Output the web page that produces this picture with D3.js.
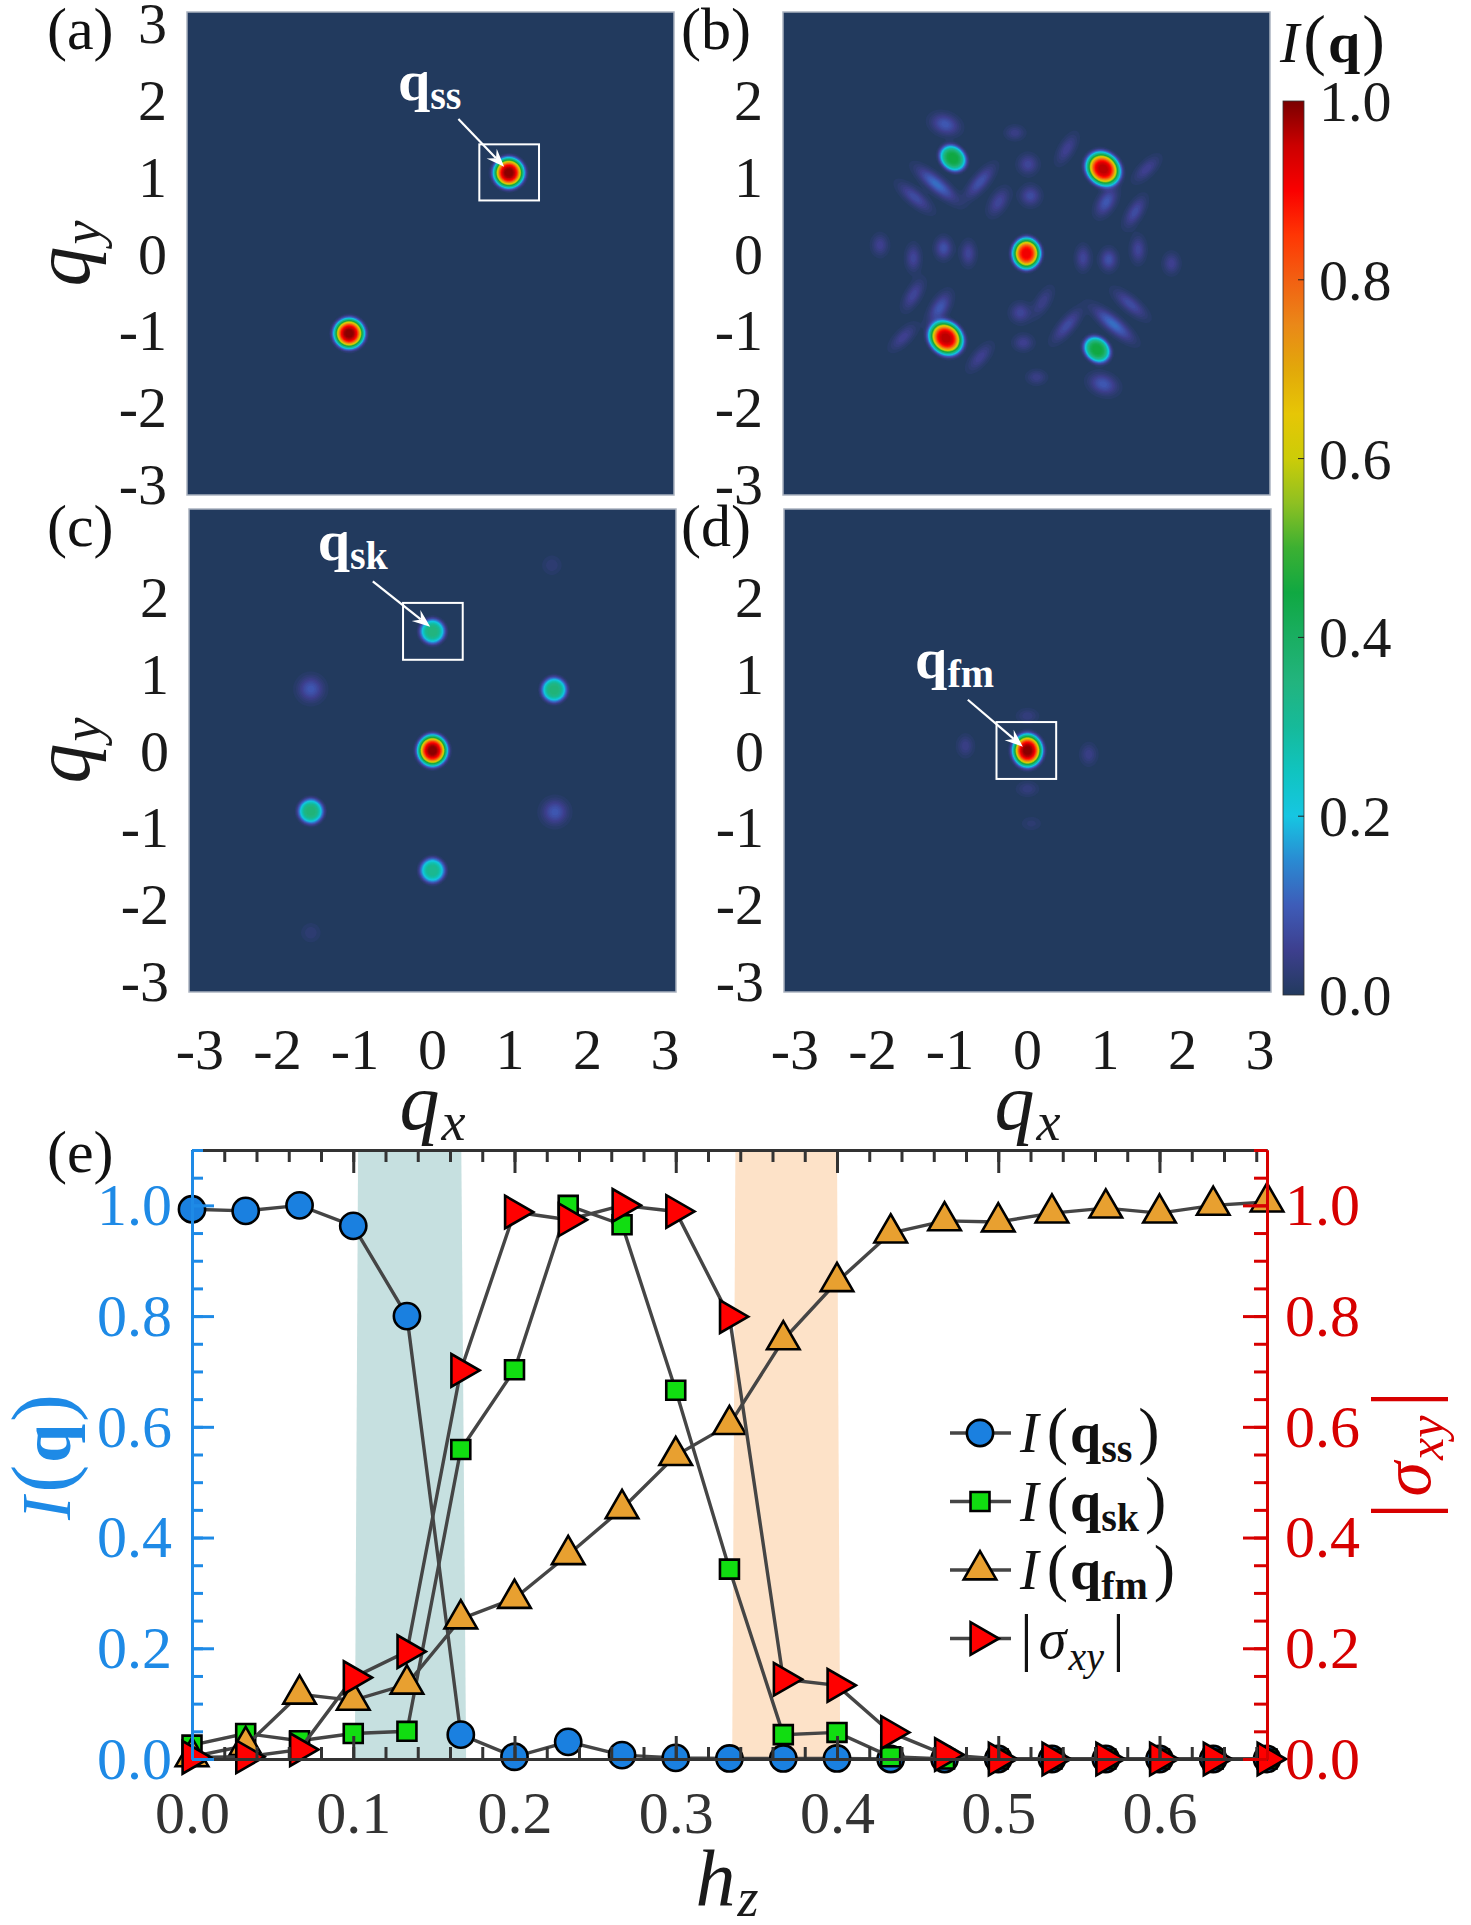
<!DOCTYPE html>
<html>
<head>
<meta charset="utf-8">
<script src="https://cdn.jsdelivr.net/npm/d3@7"></script>
<style>
body{margin:0;background:#fff}
svg text{font-family:"Liberation Serif","Times New Roman",serif}
</style>
</head>
<body>
<div id="fig"></div>
<script>
var width = 1471, height = 1925

// ---------- panel (e): values ----------
var hz    = [0, 0.0333, 0.0667, 0.1, 0.1333, 0.1667, 0.2, 0.2333, 0.2667, 0.3, 0.3333, 0.3667, 0.4, 0.4333, 0.4667, 0.5, 0.5333, 0.5667, 0.6, 0.6333, 0.6667]
var Iss   = [0.993, 0.99, 1.0, 0.963, 0.80, 0.044, 0.004, 0.031, 0.007, 0.002, 0.001, 0.001, 0.001, 0, 0, 0, 0, 0, 0, 0, 0]
var Isk   = [0.025, 0.046, 0.033, 0.046, 0.050, 0.559, 0.703, 1.0, 0.965, 0.666, 0.343, 0.044, 0.048, 0.004, 0, 0, 0, 0, 0, 0, 0]
var Ifm   = [0.004, 0.024, 0.117, 0.106, 0.135, 0.253, 0.29, 0.369, 0.452, 0.548, 0.604, 0.757, 0.862, 0.95, 0.972, 0.97, 0.986, 0.995, 0.986, 1.0, 1.006]
var sigxy = [0.003, 0.004, 0.017, 0.147, 0.194, 0.702, 0.988, 0.974, 1.0, 0.989, 0.799, 0.144, 0.133, 0.048, 0.008, 0, 0, 0, 0, 0, 0]
var hzTicks  = [0, 0.1, 0.2, 0.3, 0.4, 0.5, 0.6]
var valTicks = [0, 0.2, 0.4, 0.6, 0.8, 1.0]
// shaded transition windows: [bottom-left, top-left, top-right, bottom-right] in h_z
var tealBand  = [0.101, 0.103, 0.167, 0.170]
var peachBand = [0.335, 0.337, 0.400, 0.402]

// ---------- heat maps: spots as [qx, qy, peak, width1, width2, angle] ----------
var qTicks = [-3, -2, -1, 0, 1, 2, 3]
var spotsA = [
  [1.01, 1.05, 1.0, 0.175, 0.175, 0],
  [-1.05, -1.04, 1.0, 0.175, 0.175, 0]
]
var spotsB = [
  [0.0, 0.0, 0.92, 0.16, 0.18, 0],
  [0.99, 1.10, 0.97, 0.21, 0.18, -45],
  [-1.04, -1.10, 0.97, 0.21, 0.18, -45],
  [-0.95, 1.24, 0.46, 0.17, 0.14, -45],
  [0.91, -1.25, 0.46, 0.17, 0.14, -45],
  [-1.05, 1.68, 0.10, 0.17, 0.12, -20],
  [-1.16, 0.90, 0.13, 0.28, 0.09, -40],
  [-1.44, 0.73, 0.08, 0.24, 0.09, -40],
  [-0.60, 0.93, 0.09, 0.24, 0.09, 50],
  [-0.36, 0.67, 0.07, 0.18, 0.10, 60],
  [0.02, 1.16, 0.07, 0.12, 0.12, 0],
  [0.05, 0.75, 0.08, 0.12, 0.12, 0],
  [-0.15, 1.57, 0.05, 0.12, 0.09, 0],
  [0.52, 1.36, 0.06, 0.20, 0.09, 60],
  [1.03, 0.67, 0.10, 0.18, 0.10, 60],
  [1.40, 0.54, 0.08, 0.20, 0.09, 60],
  [1.55, 1.10, 0.06, 0.20, 0.09, 45],
  [-1.89, 0.11, 0.06, 0.10, 0.13, 0],
  [-1.46, -0.06, 0.07, 0.09, 0.16, 0],
  [-1.07, 0.07, 0.09, 0.10, 0.13, 0],
  [-0.75, 0.00, 0.07, 0.09, 0.15, 0],
  [0.73, -0.06, 0.07, 0.09, 0.15, 0],
  [1.06, -0.08, 0.09, 0.10, 0.13, 0],
  [1.44, 0.05, 0.07, 0.09, 0.16, 0],
  [1.87, -0.13, 0.06, 0.10, 0.13, 0],
  [-1.46, -0.54, 0.07, 0.20, 0.09, 60],
  [-1.12, -0.71, 0.10, 0.20, 0.10, 60],
  [-0.08, -0.77, 0.07, 0.12, 0.12, 0],
  [-0.04, -1.16, 0.06, 0.12, 0.10, 0],
  [0.52, -0.94, 0.08, 0.24, 0.09, 50],
  [1.12, -0.92, 0.13, 0.28, 0.09, -40],
  [1.34, -0.66, 0.08, 0.24, 0.09, -40],
  [-1.59, -1.09, 0.06, 0.20, 0.09, 45],
  [-0.60, -1.35, 0.06, 0.20, 0.09, 50],
  [0.99, -1.70, 0.10, 0.17, 0.12, -20],
  [0.13, -1.61, 0.05, 0.12, 0.09, 0],
  [0.21, -0.63, 0.05, 0.20, 0.09, 60]
]
var spotsC = [
  [0.0, 0.0, 1.0, 0.17, 0.18, 0],
  [0.0, 1.55, 0.36, 0.15, 0.15, 0],
  [1.57, 0.79, 0.37, 0.15, 0.15, 0],
  [-1.57, -0.79, 0.37, 0.15, 0.15, 0],
  [0.0, -1.56, 0.33, 0.15, 0.15, 0],
  [-1.57, 0.80, 0.10, 0.15, 0.15, 0],
  [1.58, -0.80, 0.10, 0.15, 0.15, 0],
  [1.54, 2.41, 0.03, 0.12, 0.12, 0],
  [-1.57, -2.37, 0.03, 0.12, 0.12, 0]
]
var spotsD = [
  [0.0, 0.0, 1.0, 0.17, 0.19, 0],
  [-0.80, 0.06, 0.05, 0.10, 0.13, 0],
  [0.79, -0.05, 0.05, 0.10, 0.13, 0],
  [0.0, 0.45, 0.04, 0.13, 0.09, 0],
  [0.0, -0.50, 0.04, 0.13, 0.09, 0],
  [0.05, -0.95, 0.025, 0.13, 0.09, 0]
]
var cbTicks = [0, 0.2, 0.4, 0.6, 0.8, 1.0]
var cmapStops  = [0, 0.05, 0.1, 0.15, 0.2, 0.25, 0.3, 0.35, 0.4, 0.45, 0.5, 0.55, 0.6, 0.65, 0.7, 0.75, 0.8, 0.85, 0.9, 0.95, 1.0]
var cmapColors = ["#223a5e","#3d3f8e","#3e5cb8","#2a8ad2","#16c6e2","#10c4c0","#16ba9a","#22b47e","#1aae62","#10a842","#3cb032","#8ec022","#cccc08","#e6c606","#e2a80a","#ea8818","#f26012","#ff3604","#fa0000","#cc0000","#7a0000"]

var cmap = d3.scaleLinear().domain(cmapStops).range(cmapColors).clamp(true)

var svg = d3.select("#fig").append("svg")
  .attr("width", width)
  .attr("height", height)
  .style("background", "#fff")

// writes a math-like label from pieces [text, size, style, dx, dy]
function mathText(t, parts){
  parts.forEach(function(p){
    var s = t.append("tspan").text(p[0]).attr("font-size", p[1])
    if (p[2] == "i") s.attr("font-style", "italic")
    if (p[2] == "b") s.attr("font-weight", "bold")
    if (p[3]) s.attr("dx", p[3])
    if (p[4]) s.attr("dy", p[4])
  })
  return t
}

// ---------- heat map panels ----------
var PW = 487, PH = 483, N = 200
var panels = [
  {lab:"(a)", lx:47, x0:187, y0:12, spots:spotsA, yt:qTicks, xt:false,
   tag:"ss", tagAt:[-0.42, 2.0], box:[0.63, 1.40, 0.69, 1.42], arrow:[0.36, 1.75, 0.95, 1.13]},
  {lab:"(b)", lx:681, x0:783, y0:12, spots:spotsB, yt:qTicks.slice(0, 6), xt:false},
  {lab:"(c)", lx:47, x0:189, y0:509, spots:spotsC, yt:qTicks.slice(0, 6), xt:true,
   tag:"sk", tagAt:[-1.48, 2.48], box:[-0.38, 0.39, 1.18, 1.92], arrow:[-0.77, 2.2, -0.03, 1.61]},
  {lab:"(d)", lx:681, x0:784, y0:509, spots:spotsD, yt:qTicks.slice(0, 6), xt:true,
   tag:"fm", tagAt:[-1.45, 0.94], box:[-0.40, 0.37, -0.37, 0.37], arrow:[-0.77, 0.66, -0.06, 0.05]}
]

function intensity(spots){
  var vals = new Array(N*N)
  for (var j = 0; j < N; j++){
    var qy = Math.PI - (j + 0.5)*2*Math.PI/N
    for (var i = 0; i < N; i++){
      var qx = -Math.PI + (i + 0.5)*2*Math.PI/N
      var v = 0
      spots.forEach(function(s){
        var a = s[5]*Math.PI/180
        var dx = qx - s[0], dy = qy - s[1]
        var u = (dx*Math.cos(a) + dy*Math.sin(a))/s[3]
        var w = (-dx*Math.sin(a) + dy*Math.cos(a))/s[4]
        var d2 = u*u + w*w
        if (d2 > 40) return
        v += s[2]*Math.exp(-Math.pow(d2, s[2] >= 0.2 ? 2 : 1))
      })
      vals[j*N + i] = v
    }
  }
  return vals
}

var thresholds = d3.range(0.01, 1.0, 0.01)

panels.forEach(function(p){
  var g = svg.append("g")
  var x = d3.scaleLinear().domain([-Math.PI, Math.PI]).range([p.x0, p.x0 + PW])
  var y = d3.scaleLinear().domain([-Math.PI, Math.PI]).range([p.y0 + PH, p.y0])
  var gx = d3.scaleLinear().domain([0, N]).range([p.x0, p.x0 + PW])
  var gy = d3.scaleLinear().domain([0, N]).range([p.y0, p.y0 + PH])

  g.append("rect").attr("x", p.x0).attr("y", p.y0).attr("width", PW).attr("height", PH)
    .attr("fill", cmap(0))

  var cont = d3.contours().size([N, N]).thresholds(thresholds)(intensity(p.spots))
  var proj = d3.geoTransform({point: function(a, b){ this.stream.point(gx(a), gy(b)) }})
  g.selectAll("path.lvl").data(cont.filter(function(c){ return c.coordinates.length })).enter()
    .append("path").attr("class", "lvl")
    .attr("d", d3.geoPath(proj))
    .attr("fill", function(c){ return cmap(c.value) })

  g.append("rect").attr("x", p.x0).attr("y", p.y0).attr("width", PW).attr("height", PH)
    .attr("fill", "none").attr("stroke", "#aab3c0").attr("stroke-width", 1.5)

  // q ticks
  g.selectAll("text.yt").data(p.yt).enter().append("text").attr("class", "yt")
    .attr("x", p.x0 - 20).attr("y", function(d){ return y(d) + 20 })
    .attr("text-anchor", "end")
    .attr("font-size", 58).attr("fill", "#1a1a1a")
    .text(function(d){ return d < 0 ? "-" + (-d) : d })
  if (p.xt){
    g.selectAll("text.xt").data(qTicks).enter().append("text").attr("class", "xt")
      .attr("x", function(d){ return x(d) }).attr("y", 1069)
      .attr("text-anchor", "middle").attr("font-size", 58).attr("fill", "#1a1a1a")
      .text(function(d){ return d < 0 ? "-" + (-d) : d })
    mathText(g.append("text").attr("x", p.x0 + PW/2).attr("y", 1129).attr("text-anchor", "middle").attr("fill", "#1a1a1a"),
      [["q", 80, "i"], ["x", 54, "i", 2, 11]])
  }
  if (p.x0 < 400){
    mathText(g.append("text").attr("transform", "translate(89," + (p.y0 + PH/2) + ")rotate(-90)")
      .attr("text-anchor", "middle").attr("fill", "#1a1a1a"),
      [["q", 80, "i"], ["y", 54, "i", 2, 11]])
  }
  g.append("text").attr("x", p.lx).attr("y", p.y0 + 37).attr("font-size", 60).attr("fill", "#111").text(p.lab)

  // marked wave vector
  if (p.tag){
    var b = p.box
    g.append("rect").attr("x", x(b[0])).attr("y", y(b[3]))
      .attr("width", x(b[1]) - x(b[0])).attr("height", y(b[2]) - y(b[3]))
      .attr("fill", "none").attr("stroke", "#fff").attr("stroke-width", 2)
    var x1 = x(p.arrow[0]), y1 = y(p.arrow[1]), x2 = x(p.arrow[2]), y2 = y(p.arrow[3])
    var ang = Math.atan2(y2 - y1, x2 - x1), L = 18, hw = 7
    var ca = Math.cos(ang), sa = Math.sin(ang)
    g.append("line").attr("x1", x1).attr("y1", y1).attr("x2", x2 - 12*ca).attr("y2", y2 - 12*sa)
      .attr("stroke", "#fff").attr("stroke-width", 2.2)
    var bx = x2 - L*ca, by = y2 - L*sa
    g.append("path").attr("fill", "#fff")
      .attr("d", "M" + x2 + "," + y2 + "L" + (bx - hw*sa) + "," + (by + hw*ca) +
        "L" + (x2 - 0.65*L*ca) + "," + (y2 - 0.65*L*sa) + "L" + (bx + hw*sa) + "," + (by - hw*ca) + "Z")
    mathText(g.append("text").attr("x", x(p.tagAt[0])).attr("y", y(p.tagAt[1])).attr("fill", "#fff"),
      [["q", 58, "b"], [p.tag, 40, "b", 0, 9]])
  }
})

// ---------- colour bar ----------
var cb = svg.append("g")
var cbY = d3.scaleLinear().domain([0, 1]).range([995, 101])
var grad = svg.append("defs").append("linearGradient").attr("id", "cbg")
  .attr("x1", 0).attr("y1", 1).attr("x2", 0).attr("y2", 0)
grad.selectAll("stop").data(cmapStops).enter().append("stop")
  .attr("offset", function(d){ return d })
  .attr("stop-color", function(d){ return cmap(d) })
cb.append("rect").attr("x", 1283).attr("y", cbY(1)).attr("width", 21).attr("height", cbY(0) - cbY(1))
  .attr("fill", "url(#cbg)").attr("stroke", "#333").attr("stroke-width", 0.8)
cb.selectAll("line").data(cbTicks.slice(1, 5)).enter().append("line")
  .attr("x1", 1298).attr("x2", 1304)
  .attr("y1", function(d){ return cbY(d) }).attr("y2", function(d){ return cbY(d) })
  .attr("stroke", "#222").attr("stroke-width", 1)
cb.selectAll("text").data(cbTicks).enter().append("text")
  .attr("x", 1319).attr("y", function(d){ return cbY(d) + 20 })
  .attr("font-size", 58).attr("fill", "#1a1a1a")
  .text(function(d){ return d.toFixed(1) })
mathText(svg.append("text").attr("x", 1280).attr("y", 62).attr("fill", "#111"),
  [["I", 58, "i"], ["(", 68, "n", 4], ["q", 58, "b", 2], [")", 68, "n", 2]])

// ---------- panel (e) ----------
var xE = d3.scaleLinear().domain([0, 2/3]).range([192, 1267])
var yE = d3.scaleLinear().domain([0, 1.1]).range([1759, 1150])
var blue = "#1e8ae6", red = "#d70000", dark = "#333"

var bandPts = function(b){
  return [[b[0], 0], [b[1], 1.1], [b[2], 1.1], [b[3], 0]]
}
var bandLine = d3.line().x(function(d){ return xE(d[0]) }).y(function(d){ return yE(d[1]) })
svg.append("path").attr("d", bandLine(bandPts(tealBand)) + "Z").attr("fill", "#c6e0e0")
svg.append("path").attr("d", bandLine(bandPts(peachBand)) + "Z").attr("fill", "#fde2c8")

var series = [
  {vals:Iss,   fill:"#1a80e0", sym:d3.symbolCircle,   size:540, rot:0,  name:[["I",56,"i"],["(",64,"n",8],["q",56,"b",2],["ss",40,"b",0,10],[")",64,"n",6,-10]]},
  {vals:Isk,   fill:"#11dd11", sym:d3.symbolSquare,   size:360, rot:0,  name:[["I",56,"i"],["(",64,"n",8],["q",56,"b",2],["sk",40,"b",0,10],[")",64,"n",6,-10]]},
  {vals:Ifm,   fill:"#e8a030", sym:d3.symbolTriangle, size:460, rot:0,  name:[["I",56,"i"],["(",64,"n",8],["q",56,"b",2],["fm",40,"b",0,10],[")",64,"n",6,-10]]},
  {vals:sigxy, fill:"#ff0000", sym:d3.symbolTriangle, size:460, rot:90, name:[["|",64,"n"],["σ",56,"i",6],["xy",40,"i",2,12],["|",64,"n",8,-12]]}
]
var line = d3.line()
  .x(function(d, i){ return xE(hz[i]) })
  .y(function(d){ return yE(d) })

series.forEach(function(s){
  var g = svg.append("g")
  g.append("path").attr("d", line(s.vals)).attr("fill", "none")
    .attr("stroke", "#454545").attr("stroke-width", 3.4)
  g.selectAll("path.m").data(s.vals).enter().append("path").attr("class", "m")
    .attr("d", d3.symbol().type(s.sym).size(s.size))
    .attr("transform", function(d, i){ return "translate(" + xE(hz[i]) + "," + yE(d) + ")rotate(" + s.rot + ")" })
    .attr("fill", s.fill).attr("stroke", "#000").attr("stroke-width", 2.6)
})

// legend
series.forEach(function(s, i){
  var ly = 1433 + i*68.5
  var g = svg.append("g")
  g.append("line").attr("x1", 950).attr("x2", 1011).attr("y1", ly).attr("y2", ly)
    .attr("stroke", "#454545").attr("stroke-width", 3.4)
  g.append("path").attr("d", d3.symbol().type(s.sym).size(s.size))
    .attr("transform", "translate(980," + ly + ")rotate(" + s.rot + ")")
    .attr("fill", s.fill).attr("stroke", "#000").attr("stroke-width", 2.6)
  mathText(g.append("text").attr("x", 1020).attr("y", ly + 19).attr("fill", "#111"), s.name)
})

// axes (drawn over the markers)
function styleAxis(g, color, fs){
  g.style("color", color).attr("font-family", "Liberation Serif, Times New Roman, serif").attr("font-size", fs)
  g.selectAll("line").attr("stroke-width", 3)
  g.select(".domain").attr("stroke-width", 3)
}
var minorX = d3.range(0, 0.665, 0.02)
var minorY = d3.range(0, 1.101, 0.05)

styleAxis(svg.append("g").attr("transform", "translate(0,1759)")
  .call(d3.axisBottom(xE).tickValues(minorX).tickSize(-12).tickSizeOuter(0).tickFormat("")), dark, 60)
styleAxis(svg.append("g").attr("transform", "translate(0,1759)")
  .call(d3.axisBottom(xE).tickValues(hzTicks).tickSize(-23).tickSizeOuter(0).tickPadding(31).tickFormat(d3.format(".1f"))), dark, 60)
styleAxis(svg.append("g").attr("transform", "translate(0,1150)")
  .call(d3.axisTop(xE).tickValues(minorX).tickSize(-12).tickSizeOuter(0).tickFormat("")), dark, 60)
styleAxis(svg.append("g").attr("transform", "translate(0,1150)")
  .call(d3.axisTop(xE).tickValues(hzTicks).tickSize(-23).tickSizeOuter(0).tickFormat("")), dark, 60)

styleAxis(svg.append("g").attr("transform", "translate(192,0)")
  .call(d3.axisLeft(yE).tickValues(minorY).tickSize(-11).tickSizeOuter(0).tickFormat("")), blue, 60)
styleAxis(svg.append("g").attr("transform", "translate(192,0)")
  .call(d3.axisLeft(yE).tickValues(valTicks).tickSize(-22).tickSizeOuter(0).tickPadding(20).tickFormat(d3.format(".1f"))), blue, 60)
styleAxis(svg.append("g").attr("transform", "translate(1267,0)")
  .call(d3.axisRight(yE).tickValues(minorY).tickSize(-13).tickSizeOuter(0).tickFormat("")), red, 60)
styleAxis(svg.append("g").attr("transform", "translate(1267,0)")
  .call(d3.axisRight(yE).tickValues(valTicks).tickSize(-24).tickSizeOuter(0).tickPadding(18).tickFormat(d3.format(".1f"))), red, 60)

// axis titles
mathText(svg.append("text").attr("transform", "translate(70,1457)rotate(-90)").attr("text-anchor", "middle").style("fill", blue),
  [["I", 70, "i"], ["(", 84, "n", 4], ["q", 70, "b", 2], [")", 84, "n", 2]])
mathText(svg.append("text").attr("transform", "translate(1430,1455)rotate(-90)").attr("text-anchor", "middle").style("fill", red),
  [["|", 84, "n"], ["σ", 70, "i", 6], ["xy", 50, "i", 2, 13], ["|", 84, "n", 8, -13]])
mathText(svg.append("text").attr("x", 727).attr("y", 1905).attr("text-anchor", "middle").attr("fill", "#1a1a1a"),
  [["h", 80, "i"], ["z", 54, "i", 2, 11]])
svg.append("text").attr("x", 47).attr("y", 1172).attr("font-size", 60).attr("fill", "#111").text("(e)")
</script>
</body>
</html>
